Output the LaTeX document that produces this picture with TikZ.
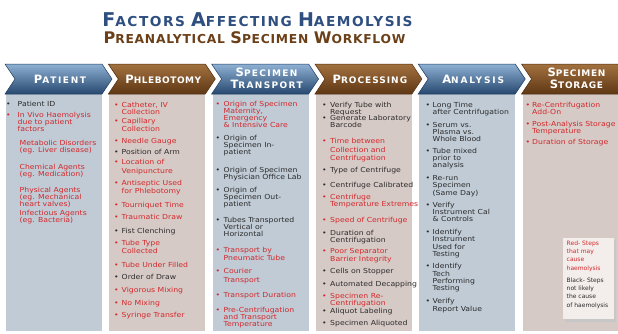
\documentclass[tikz,border=0pt]{standalone}
\usepackage{fontspec}
\setmainfont{DejaVu Sans}
\newfontfamily\bodyfont[FakeStretch=1.12]{DejaVu Sans}
\newfontfamily\legfont{DejaVu Sans}
\newfontfamily\headfont{DejaVu Sans}
\newfontfamily\titlefont[LetterSpace=6]{DejaVu Sans}

\definecolor{tblue}{HTML}{2E4F80}
\definecolor{tbrown}{HTML}{6B3F18}
\definecolor{colblu}{HTML}{C0CBD6}
\definecolor{colbrn}{HTML}{D6CAC6}
\definecolor{hred}{HTML}{D3282B}
\definecolor{hblk}{HTML}{2C2C2C}
\definecolor{legfill}{HTML}{F3EEEC}
\definecolor{bluTop}{HTML}{8DB0D3}
\definecolor{bluMid}{HTML}{4F78A5}
\definecolor{bluBot}{HTML}{27486F}
\definecolor{bluEdge}{HTML}{213C5F}
\definecolor{brnTop}{HTML}{A3713F}
\definecolor{brnMid}{HTML}{87552A}
\definecolor{brnBot}{HTML}{5E3714}
\definecolor{brnEdge}{HTML}{502E11}

% fake small caps: a large initial followed by smaller capitals
\newcommand\tcapA[2]{{\fontsize{19}{19}\selectfont #1}{\fontsize{13.7}{19}\selectfont #2}}
\newcommand\tcapB[2]{{\fontsize{16}{16}\selectfont #1}{\fontsize{12.3}{16}\selectfont #2}}
\newcommand\hcap[2]{{\fontsize{11.5}{10.6}\selectfont #1}{\fontsize{9}{10.6}\selectfont #2}}
% stacked lines with a given line pitch
\newcommand\lns[2]{\fontsize{6.9}{#1}\selectfont\begin{tabular}[t]{@{}l@{}}#2\end{tabular}}
% bulleted item: [pitch]{name}{style}{bullet x}{text x}{y}{lines}
\newcommand\itm[7][6.5]{%
  \node[bul,#3] (#2-b) at (#4,#6+2.2) {\textbullet};
  \node[itm,#3] (#2) at (#5,#6+2.2) {\lns{#1}{#7}};}
% item without bullet: [pitch]{name}{style}{text x}{y}{lines}
\newcommand\sitm[6][7]{%
  \node[itm,#3] (#2) at (#4,#5+2.2) {\lns{#1}{#6}};}

\tikzset{
  rd/.style={text=hred},
  bk/.style={text=hblk},
  bul/.style={font={\bodyfont\fontsize{6.9}{6.9}\selectfont}, anchor=base, inner sep=0pt},
  itm/.style={font=\bodyfont, anchor=base west, inner sep=0pt},
  ttl/.style={font={\titlefont\bfseries\fontsize{13.7}{16}\selectfont}, anchor=base, inner sep=0pt},
  hd/.style={text=white, font={\headfont\bfseries}, anchor=base, inner sep=0pt},
  chevblu/.style={top color=bluTop, middle color=bluMid, bottom color=bluBot, draw=bluEdge, line width=0.5pt},
  chevbrn/.style={top color=brnTop, middle color=brnMid, bottom color=brnBot, draw=brnEdge, line width=0.5pt},
}

\begin{document}
\begin{tikzpicture}[x=1pt,y=-1pt]
\useasboundingbox (0,0) rectangle (618,333);
\fill[white] (0,0) rectangle (618,333);

% title
\node[ttl, text=tblue] (title1) at (257.5,26.7) {\addfontfeatures{LetterSpace=11}\tcapA{F}{ACTORS} \tcapA{A}{FFECTING} \tcapA{H}{AEMOLYSIS}};
\node[ttl, text=tbrown] (title2) at (254.5,43.3) {\tcapB{P}{REANALYTICAL} \tcapB{S}{PECIMEN} \tcapB{W}{ORKFLOW}};

% columns and chevron headers
\foreach \L/\k in {6/blu,109.3/brn,212.6/blu,315.9/brn,419.2/blu,522.5/brn}{
  \fill[col\k] (\L,94) rectangle ++(96,237);
  \shade[chev\k] (\L-1,64) -- ++(97,0) -- ++(10,15) -- ++(-10,15) -- ++(-97,0) -- ++(10,-15) -- cycle;
}

\node[hd] (h1) at (60,83.3) {\addfontfeatures{LetterSpace=18}\hcap{P}{ATIENT}};
\node[hd] (h2) at (163.3,83.3) {\addfontfeatures{LetterSpace=6}\hcap{P}{HLEBOTOMY}};
\node[hd] (h3) at (266.6,76.7) {\addfontfeatures{LetterSpace=15}\fontsize{9}{10.6}\selectfont\begin{tabular}[t]{@{}c@{}}\hcap{S}{PECIMEN}\\\hcap{T}{RANSPORT}\end{tabular}};
\node[hd] (h4) at (369.9,83.3) {\addfontfeatures{LetterSpace=11}\hcap{P}{ROCESSING}};
\node[hd] (h5) at (473.2,83.3) {\addfontfeatures{LetterSpace=21}\hcap{A}{NALYSIS}};
\node[hd] (h6) at (576.5,76.7) {\addfontfeatures{LetterSpace=8}\fontsize{9}{10.6}\selectfont\begin{tabular}[t]{@{}c@{}}\hcap{S}{PECIMEN}\\\hcap{S}{TORAGE}\end{tabular}};

% patient
\itm{pid}{bk}{8.5}{17.5}{104}{Patient ID}
\itm{vivo}{rd}{8.5}{17.5}{115}{In Vivo Haemolysis\\due to patient\\factors}
\sitm{met}{rd}{19.5}{143}{Metabolic Disorders\\(eg. Liver disease)}
\sitm{chem}{rd}{19.5}{167}{Chemical Agents\\(eg. Medication)}
\sitm{phys}{rd}{19.5}{190}{Physical Agents\\(eg. Mechanical\\heart valves)}
\sitm{inf}{rd}{19.5}{213}{Infectious Agents\\(eg. Bacteria)}

% phlebotomy
\itm[6]{cath}{rd}{116.5}{121.5}{105}{Catheter, IV\\Collection}
\itm[6.3]{capil}{rd}{116.5}{121.5}{121.7}{Capillary\\Collection}
\itm{needle}{rd}{116.5}{121.5}{141.7}{Needle Gauge}
\itm{posarm}{bk}{116.5}{121.5}{152}{Position of Arm}
\itm[8.5]{loc}{rd}{116.5}{121.5}{162.7}{Location of\\Venipuncture}
\itm[8.5]{anti}{rd}{116.5}{121.5}{183}{Antiseptic Used\\for Phlebotomy}
\itm{tourn}{rd}{116.5}{121.5}{205.7}{Tourniquet Time}
\itm{traum}{rd}{116.5}{121.5}{217.7}{Traumatic Draw}
\itm{fist}{bk}{116.5}{121.5}{231}{Fist Clenching}
\itm[8.5]{ttype}{rd}{116.5}{121.5}{243}{Tube Type\\Collected}
\itm{under}{rd}{116.5}{121.5}{265.7}{Tube Under Filled}
\itm{order}{bk}{116.5}{121.5}{277.3}{Order of Draw}
\itm{vig}{rd}{116.5}{121.5}{290}{Vigorous Mixing}
\itm{nomix}{rd}{116.5}{121.5}{303.3}{No Mixing}
\itm{syr}{rd}{116.5}{121.5}{315}{Syringe Transfer}

% specimen transport
\itm[6.1]{mat}{rd}{218}{223.5}{104}{Origin of Specimen\\Maternity,\\Emergency\\\& Intensive Care}
\itm[6.3]{inpat}{bk}{218}{223.5}{138}{Origin of\\Specimen In-\\patient}
\itm[6.3]{pol}{bk}{218}{223.5}{170}{Origin of Specimen\\Physician Office Lab}
\itm[6.3]{outpat}{bk}{218}{223.5}{190}{Origin of\\Specimen Out-\\patient}
\itm[6.3]{vert}{bk}{218}{223.5}{220}{Tubes Transported\\Vertical or\\Horizontal}
\itm[6.2]{pneu}{rd}{218}{223.5}{250.7}{Transport by\\Pneumatic Tube}
\itm[8.3]{cour}{rd}{218}{223.5}{271.7}{Courier\\Transport}
\itm{tdur}{rd}{218}{223.5}{295}{Transport Duration}
\itm[6.5]{precent}{rd}{218}{223.5}{310}{Pre-Centrifugation\\and Transport\\Temperature}

% processing
\itm[5.9]{ver}{bk}{324.5}{330}{105}{Verify Tube with\\Request}
\itm[6]{gen}{bk}{324.5}{330}{118.3}{Generate Laboratory\\Barcode}
\itm[8.5]{tbc}{rd}{324.5}{330}{141.7}{Time between\\Collection and\\Centrifugation}
\itm{ctype}{bk}{324.5}{330}{170.7}{Type of Centrifuge}
\itm{calib}{bk}{324.5}{330}{185}{Centrifuge Calibrated}
\itm[6]{temp}{rd}{324.5}{330}{197.3}{Centrifuge\\Temperature Extremes}
\itm{speed}{rd}{324.5}{330}{220}{Speed of Centrifuge}
\itm[6]{dur}{bk}{324.5}{330}{233.3}{Duration of\\Centrifugation}
\itm[6.6]{poor}{rd}{324.5}{330}{251.7}{Poor Separator\\Barrier Integrity}
\itm{cells}{bk}{324.5}{330}{271.7}{Cells on Stopper}
\itm{decap}{bk}{324.5}{330}{284}{Automated Decapping}
\itm[6]{recent}{rd}{324.5}{330}{296.7}{Specimen Re-\\Centrifugation}
\itm{alab}{bk}{324.5}{330}{311.7}{Aliquot Labeling}
\itm{aliq}{bk}{324.5}{330}{323.3}{Specimen Aliquoted}

% analysis
\itm[6.7]{long}{bk}{428}{432.5}{105}{Long Time\\after Centrifugation}
\itm[7]{serum}{bk}{428}{432.5}{125}{Serum vs.\\Plasma vs.\\Whole Blood}
\itm[7]{mixed}{bk}{428}{432.5}{151}{Tube mixed\\prior to\\analysis}
\itm[7]{rerun}{bk}{428}{432.5}{178.3}{Re-run\\Specimen\\(Same Day)}
\itm[7]{cal}{bk}{428}{432.5}{205}{Verify\\Instrument Cal\\\& Controls}
\itm[6.7]{instr}{bk}{428}{432.5}{232.7}{Identify\\Instrument\\Used for\\Testing}
\itm[6.9]{tech}{bk}{428}{432.5}{266.7}{Identify\\Tech\\Performing\\Testing}
\itm[6.7]{rep}{bk}{428}{432.5}{301.7}{Verify\\Report Value}

% specimen storage
\itm[5.8]{addon}{rd}{528}{532}{105}{Re-Centrifugation\\Add-On}
\itm[5.8]{post}{rd}{528}{532}{124.3}{Post-Analysis Storage\\Temperature}
\itm{sdur}{rd}{528}{532}{142.7}{Duration of Storage}

% legend
\fill[black!22] (565,240) rectangle (616,321.5);
\node[fill=legfill, minimum width=51pt, minimum height=81pt, anchor=north west, inner sep=0pt] (legend) at (563,238) {};
\node[anchor=base west, inner sep=0pt, text=hred, font=\legfont] (legred) at (566.5,245.2) {\fontsize{6}{8.3}\selectfont\begin{tabular}[t]{@{}l@{}}Red- Steps\\that may\\cause\\haemolysis\end{tabular}};
\node[anchor=base west, inner sep=0pt, text=hblk, font=\legfont] (legblk) at (566.5,282.2) {\fontsize{6}{8.3}\selectfont\begin{tabular}[t]{@{}l@{}}Black- Steps\\not likely\\the cause\\of haemolysis\end{tabular}};
\end{tikzpicture}
\end{document}
